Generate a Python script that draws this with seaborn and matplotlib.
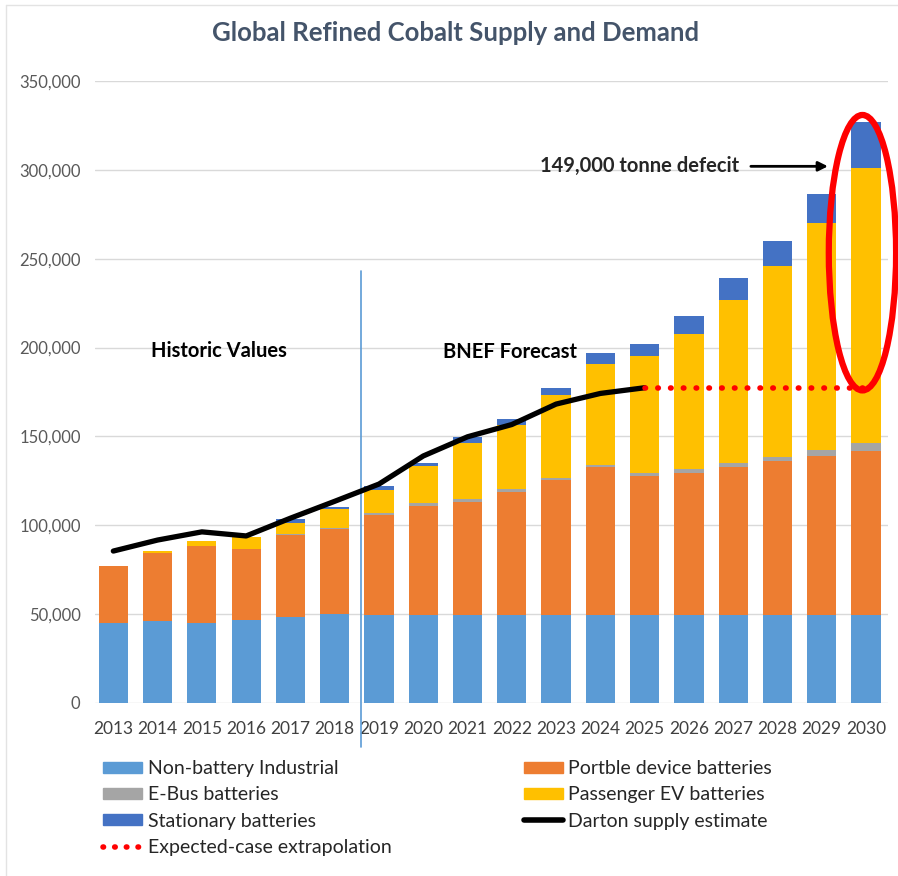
import numpy as np
import pandas as pd
import seaborn as sns
import matplotlib.pyplot as plt
from matplotlib.patches import Patch, Ellipse
from matplotlib.lines import Line2D

years = [str(y) for y in range(2013, 2031)]

non_battery = [45000, 46000, 45000, 46800, 48300, 50000, 49500, 49500, 49500,
               49500, 49500, 49500, 49500, 49500, 49500, 49500, 49500, 49500]
portable = [32200, 38300, 43500, 40000, 46000, 47700, 56400, 61500, 63700,
            69400, 75900, 83100, 78000, 80200, 83100, 86600, 89700, 92300]
ebus = [0, 0, 0, 0, 800, 800, 1200, 1300, 1400,
        1300, 1000, 1300, 1700, 1700, 2600, 2500, 3100, 4600]
passenger_ev = [0, 1200, 2800, 6400, 6400, 10500, 13000, 21200, 31500,
                36200, 47000, 56600, 65800, 76500, 91500, 107400, 128000, 154700]
stationary = [0, 0, 0, 0, 1800, 1500, 1900, 1700, 3400,
              3400, 4100, 6200, 6900, 9800, 12200, 13900, 16400, 25900]

darton_years = years[:13]
darton = [85500, 91700, 96300, 94000, 104000, 113500, 123200, 139000,
          149800, 156700, 168200, 174200, 177400]
extrapolation_level = 177400

series_names = ["Non-battery Industrial", "Portble device batteries", "E-Bus batteries",
                "Passenger EV batteries", "Stationary batteries"]
series_values = [non_battery, portable, ebus, passenger_ev, stationary]
series_colors = ["#5B9BD5", "#ED7D31", "#A5A5A5", "#FFC000", "#4472C4"]

sns.set_theme(style="white")
plt.rcParams['font.family'] = ['Lato', 'DejaVu Sans']

fig = plt.figure(figsize=(8.98, 8.76), dpi=100)
ax = fig.add_axes([0.106, 0.1975, 0.883, 0.71])

# stacked bars: draw cumulative totals from the top layer down
cum = np.cumsum(np.array(series_values), axis=0)
for i in range(len(series_names) - 1, -1, -1):
    df = pd.DataFrame({"year": years, "value": cum[i]})
    sns.barplot(data=df, x="year", y="value", color=series_colors[i], saturation=1,
                width=0.66, errorbar=None, linewidth=0, ax=ax, zorder=2)

# supply line
pos = np.arange(len(darton_years))
sns.lineplot(x=pos, y=darton, color="black", linewidth=3.8, ax=ax, zorder=4,
             solid_capstyle="round")

# extrapolation dots
ax.plot([len(darton_years) - 1, len(years) - 1], [extrapolation_level] * 2,
        color="red", linewidth=4, linestyle=(0, (0.1, 2.2)),
        dash_capstyle="round", zorder=5)

# red ellipse round 2030
ax.add_patch(Ellipse((16.92, 253400), width=1.52, height=155000, fill=False,
                     edgecolor="red", linewidth=4.5, zorder=6, clip_on=False))

# historic / forecast separator
ax.plot([5.6, 5.6], [-25000, 243000], color="#5B9BD5", linewidth=1.2,
        clip_on=False, zorder=3)

ax.text(0.84, 198000, "Historic Values", fontsize=14.5, fontweight="bold",
        color="black", va="center", ha="left")
ax.text(7.45, 197500, "BNEF Forecast", fontsize=14.5, fontweight="bold",
        color="black", va="center", ha="left")
ax.annotate("149,000 tonne defecit", xy=(16.14, 302000), xytext=(9.64, 302000),
            fontsize=14.5, fontweight="bold", va="center", ha="left",
            arrowprops=dict(arrowstyle="-|>", color="black", lw=2,
                            shrinkA=6, shrinkB=0, mutation_scale=14))

ax.set_xlim(-0.41, 17.5)
ax.set_ylim(0, 350000)
ax.set_yticks(np.arange(0, 350001, 50000))
ax.set_yticklabels([f"{v:,}" for v in range(0, 350001, 50000)])
ax.yaxis.grid(True, color="#D9D9D9", linewidth=1, zorder=0)
ax.set_axisbelow(True)
ax.set_xlabel("")
ax.set_ylabel("")
for s in ax.spines.values():
    s.set_visible(False)
ax.tick_params(axis="y", length=0, pad=10.5, labelsize=12, labelcolor="#595959")
ax.tick_params(axis="x", length=0, pad=13, labelsize=12.5, labelcolor="#404040")

fig.text(0.507, 0.962, "Global Refined Cobalt Supply and Demand", fontsize=18.5,
         fontweight="bold", color="#44546A", ha="center", va="center")

handles = [
    Patch(color=series_colors[0], label=series_names[0]),
    Patch(color=series_colors[2], label=series_names[2]),
    Patch(color=series_colors[4], label=series_names[4]),
    Line2D([], [], color="red", linewidth=4, linestyle=(0, (0.1, 2.0)),
           dash_capstyle="round", label="Expected-case extrapolation"),
    Patch(color=series_colors[1], label=series_names[1]),
    Patch(color=series_colors[3], label=series_names[3]),
    Line2D([], [], color="black", linewidth=4, solid_capstyle="round",
           label="Darton supply estimate"),
]
fig.legend(handles=handles, loc="upper left", bbox_to_anchor=(103 / 898, 1 - 760 / 876),
           ncol=2, frameon=False, fontsize=14, handlelength=2.0, handleheight=0.5,
           handletextpad=0.3, columnspacing=6.8, labelspacing=0.48,
           borderpad=0, borderaxespad=0)

# faint frame like the source image
fig.add_artist(Line2D([0.007, 0.007], [0, 0.994], color="#E3E3E3", lw=1))
fig.add_artist(Line2D([0.007, 1], [0.994, 0.994], color="#E3E3E3", lw=1))

fig.savefig("out.png", dpi=100)
